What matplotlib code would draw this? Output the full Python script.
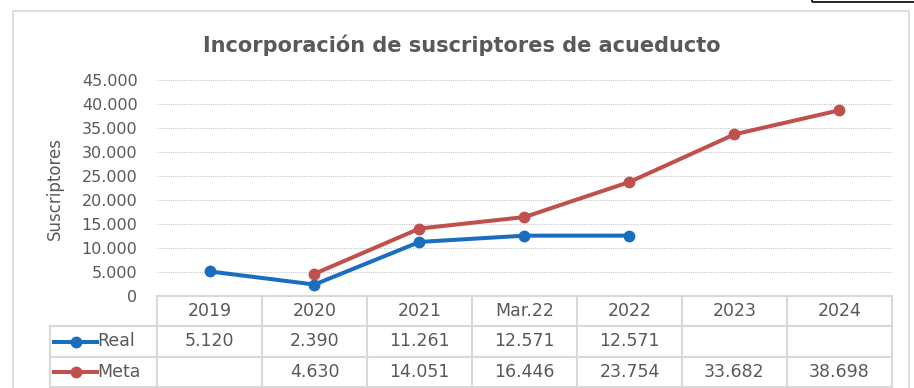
import numpy as np
import matplotlib
matplotlib.use("Agg")
import matplotlib.pyplot as plt
from matplotlib.patches import Rectangle
from matplotlib.ticker import FuncFormatter

W, H = 914, 388

categories = ["2019", "2020", "2021", "Mar.22", "2022", "2023", "2024"]
real = [5120, 2390, 11261, 12571, 12571, np.nan, np.nan]
meta = [np.nan, 4630, 14051, 16446, 23754, 33682, 38698]
y_ticks = list(range(0, 45001, 5000))

TEXT = "#595959"
GRID = "#D9D9D9"
REAL_COLOR = "#1A6EC0"
META_COLOR = "#C0504D"


def fmt_es(v):
    return f"{v:,.0f}".replace(",", ".")


def box(x0, y0, x1, y1):
    """Pixel box (top-left origin) -> figure fraction [l, b, w, h]."""
    return [x0 / W, 1 - y1 / H, (x1 - x0) / W, (y1 - y0) / H]


fig = plt.figure(figsize=(W / 100, H / 100), dpi=100)
fig.patch.set_facecolor("white")

# chart frame and the edge of the neighbouring box
fig.patches.append(Rectangle((13 / W, -0.05), (909 - 13) / W, 1.05 - 11 / H,
                             transform=fig.transFigure, fill=False,
                             edgecolor="#D9D9D9", lw=1.2))
fig.patches.append(Rectangle((812 / W, 1 - 2 / H), 0.2, 0.1,
                             transform=fig.transFigure, fill=False,
                             edgecolor="black", lw=1.2))

fig.text(462 / W, 1 - 45 / H, "Incorporación de suscriptores de acueducto",
         ha="center", va="center", fontsize=15, fontweight="bold", color=TEXT)

# --- lines ---
ax = fig.add_axes(box(157, 80, 892, 296))
x = np.arange(len(categories)) + 0.5
ax.plot(x, real, color=REAL_COLOR, lw=2.9, marker="o", ms=7.5, zorder=3)
ax.plot(x, meta, color=META_COLOR, lw=2.9, marker="o", ms=7.5, zorder=3)
ax.set_xlim(0, len(categories))
ax.set_ylim(0, 45000)
ax.set_yticks(y_ticks)
ax.yaxis.set_major_formatter(FuncFormatter(lambda v, p: fmt_es(v)))
ax.set_xticks([])
ax.tick_params(axis="y", length=0, pad=14, labelsize=11.5, labelcolor=TEXT)
ax.yaxis.grid(True, color="#C8C8C8", ls=(0, (1, 1)), lw=0.8)
ax.set_axisbelow(True)
for s in ax.spines.values():
    s.set_visible(False)
fig.text(55 / W, 1 - 188 / H, "Suscriptores", rotation=90, ha="center",
         va="center", fontsize=12, color=TEXT)

# --- data table ---
tab = fig.add_axes(box(50, 296, 892, 387))
left = -(157 - 50) / 105
n = len(categories)
tab.set_xlim(left, n)
tab.set_ylim(3, 0)
tab.axis("off")
kw = dict(color=GRID, lw=1.5, clip_on=False, solid_capstyle="projecting")
tab.plot([0, n], [0, 0], **kw)
for r in (1, 2, 3):
    tab.plot([left, n], [r, r], **kw)
for c in range(n + 1):
    tab.plot([c, c], [0, 3], **kw)
tab.plot([left, left], [1, 3], **kw)

for i, cat in enumerate(categories):
    tab.text(i + 0.5, 0.5, cat, ha="center", va="center", fontsize=12.5,
             color=TEXT)
for row, (name, vals, col) in enumerate([("Real", real, REAL_COLOR),
                                         ("Meta", meta, META_COLOR)], start=1):
    yc = row + 0.5
    tab.plot([-0.98, -0.57], [yc, yc], color=col, lw=2.9, clip_on=False)
    tab.plot([-0.775], [yc], color=col, marker="o", ms=7.5, clip_on=False)
    tab.text(-0.565, yc, name, ha="left", va="center", fontsize=12.5,
             color=TEXT)
    for i, v in enumerate(vals):
        if not np.isnan(v):
            tab.text(i + 0.5, yc, fmt_es(v), ha="center", va="center",
                     fontsize=12.5, color=TEXT)

fig.savefig("out.png", dpi=100)
